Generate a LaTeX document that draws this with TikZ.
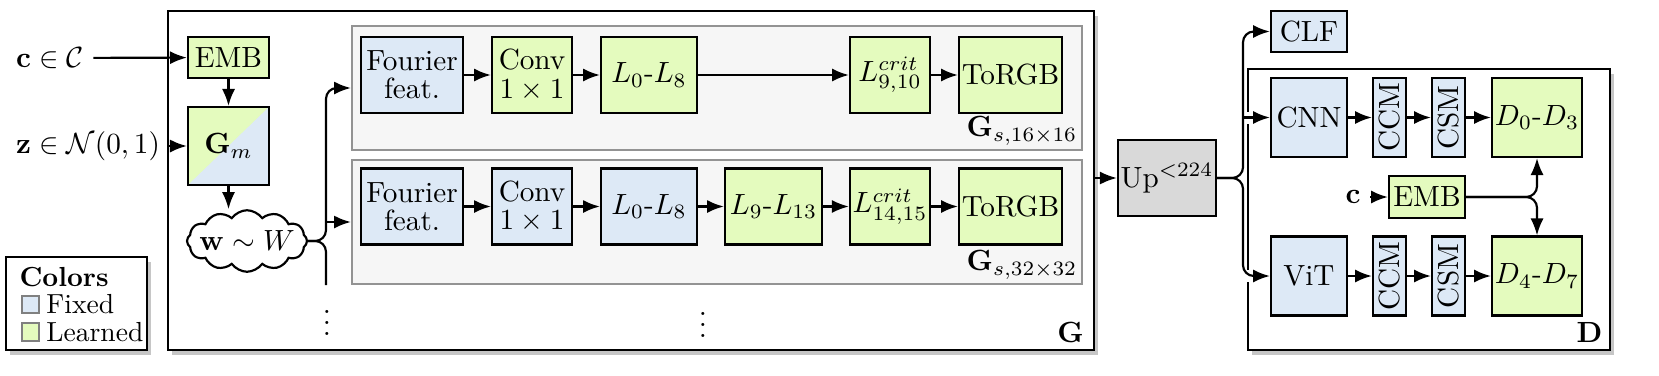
\RequirePackage{fix-cm}
\documentclass[tikz,border=0pt]{standalone}
\usepackage{amsmath,amssymb}
\usetikzlibrary{arrows.meta,positioning,calc,fit,shadows,shapes.symbols}
\definecolor{fixedblue}{RGB}{221,233,246}
\definecolor{learngreen}{RGB}{228,251,190}
\definecolor{upgray}{RGB}{217,217,217}
\definecolor{pipegray}{RGB}{246,246,246}
\tikzset{
  blk/.style={draw=black, thick, inner sep=1pt, align=center, minimum height=0.988cm},
  fixed/.style={blk, fill=fixedblue},
  learned/.style={blk, fill=learngreen},
  pipe/.style={draw=gray!85, thick, fill=pipegray, inner sep=0pt},
  outer/.style={draw=black, thick, fill=white, inner sep=0pt, drop shadow={shadow xshift=1.6pt, shadow yshift=-1.8pt, opacity=0.45}},
  arrow/.style={-{Latex[length=2.2mm, width=1.7mm]}, thick},
  branch/.style={arrow, rounded corners=4pt},
  swatch/.style={draw=gray, thick, minimum size=0.23cm, inner sep=0pt},
  legendtext/.style={inner sep=0pt, font=\fontsize{10.2}{12}\selectfont}
}

\begin{document}
\begin{tikzpicture}[x=0.013cm, y=-0.013cm, font=\fontsize{10.8}{12.5}\selectfont]
  \useasboundingbox (0,0) rectangle (1659,375);
  % generator
  \node[outer, fit={(168,11) (1094,350)}] (Gbox) {};
  \node[anchor=south east, inner xsep=4pt, inner ysep=3pt] (lblG) at (Gbox.south east) {$\mathbf{G}$};
  \node[pipe, fit={(352,26) (1082,150)}] (pipe16) {};
  \node[pipe, fit={(352,160) (1082,284)}] (pipe32) {};
  \node[anchor=south east, inner sep=2pt] (lbl16) at (pipe16.south east) {$\mathbf{G}_{s,16\times16}$};
  \node[anchor=south east, inner sep=2pt] (lbl32) at (pipe32.south east) {$\mathbf{G}_{s,32\times32}$};

  \node (cin) at (50,58) {$\mathbf{c}\in\mathcal{C}$};
  \node (zin) at (88,146) {$\mathbf{z}\in\mathcal{N}(0,1)$};
  \node[learned, minimum width=1.053cm, minimum height=0.533cm] (emb) at (228.5,57.5) {EMB};
  \node[learned, minimum width=1.053cm, minimum height=1.014cm,
        path picture={\fill[fixedblue] (path picture bounding box.south west) -- (path picture bounding box.south east) -- (path picture bounding box.north east) -- cycle;}] (gm) at (228.5,146) {$\mathbf{G}_m$};
  \node[cloud, draw, thick, fill=white, cloud puffs=12, cloud puff arc=110, aspect=1.6, minimum width=1.56cm, minimum height=0.8cm, inner sep=0pt] (cloud) at (247,241) {};
  \node (wtxt) at (cloud.center) {$\mathbf{w}\sim W$};
  \draw[arrow] (cin) -- (emb);
  \draw[arrow] (zin) -- (gm);
  \draw[arrow] (emb) -- (gm);
  \draw[arrow] (gm.south) -- (gm.south |- cloud.north);

  % 16x16 stage
  \node[fixed, minimum width=1.326cm] (ff1) at (412,75) {Fourier\\[-2pt]feat.};
  \node[learned, minimum width=1.04cm] (conv1) at (532,75) {Conv\\[-2pt]$1\times1$};
  \node[learned, minimum width=1.248cm] (la1) at (649,75) {$L_0$-$L_8$};
  \node[learned, minimum width=1.04cm] (crit1) at (890,75) {$L_{9,10}^{crit}$};
  \node[learned, minimum width=1.339cm] (rgb1) at (1010.5,75) {ToRGB};
  \draw[arrow] (ff1) -- (conv1);
  \draw[arrow] (conv1) -- (la1);
  \draw[arrow] (la1) -- (crit1);
  \draw[arrow] (crit1) -- (rgb1);

  % 32x32 stage
  \node[fixed, minimum width=1.326cm] (ff2) at (412,206.5) {Fourier\\[-2pt]feat.};
  \node[fixed, minimum width=1.04cm] (conv2) at (532,206.5) {Conv\\[-2pt]$1\times1$};
  \node[fixed, minimum width=1.248cm] (la2) at (649,206.5) {$L_0$-$L_8$};
  \node[learned, minimum width=1.261cm] (lb2) at (773.5,206.5) {$L_9$-$L_{13}$};
  \node[learned, minimum width=1.04cm] (crit2) at (890,206.5) {$L_{14,15}^{crit}$};
  \node[learned, minimum width=1.339cm] (rgb2) at (1010.5,206.5) {ToRGB};
  \draw[arrow] (ff2) -- (conv2);
  \draw[arrow] (conv2) -- (la2);
  \draw[arrow] (la2) -- (lb2);
  \draw[arrow] (lb2) -- (crit2);
  \draw[arrow] (crit2) -- (rgb2);

  \node (wdots) at (327,315) {$\vdots$};
  \node (gdots) at (703,317) {$\vdots$};
  \coordinate (wbr) at (326,241);
  \draw[branch] (cloud.east) -- (wbr) |- (pipe16.west);
  \draw[arrow] (wbr |- pipe32.west) -- (pipe32.west);
  \draw[thick, rounded corners=4pt] (cloud.east) -- (wbr) -- ++(0,44);

  % legend
  \node[outer, fit={(6,257) (147,350)}] (legend) {};
  \node[anchor=west, legendtext] (lgtitle) at (19,277) {\textbf{Colors}};
  \node[swatch, fill=fixedblue] (swfix) at (30.5,304.5) {};
  \node[swatch, fill=learngreen] (swlrn) at (30.5,332) {};
  \node[right=2pt of swfix, legendtext] (lgfix) {Fixed};
  \node[right=2pt of swlrn, legendtext] (lglrn) {Learned};

  % upsampling and discriminator
  \node[blk, fill=upgray, minimum width=1.17cm] (up) at (1167,178) {Up$^{<224}$};
  \draw[arrow] (up.west -| Gbox.east) -- (up.west);
  \node[fixed, minimum width=0.988cm, minimum height=0.533cm] (clf) at (1309,31.5) {CLF};
  \node[outer, fit={(1248,69) (1610,350)}] (Dbox) {};
  \node[anchor=south east, inner sep=3pt] (lblD) at (Dbox.south east) {$\mathbf{D}$};

  \node[fixed, minimum width=0.988cm, minimum height=1.027cm] (cnn) at (1309,117.5) {CNN};
  \node[fixed, rotate=90, minimum width=1.027cm, minimum height=0.429cm] (ccm1) at (1389.5,117.5) {CCM};
  \node[fixed, rotate=90, minimum width=1.027cm, minimum height=0.429cm] (csm1) at (1448.5,117.5) {CSM};
  \node[learned, minimum width=1.17cm, minimum height=1.027cm] (d03) at (1537,117.5) {$D_0$-$D_3$};
  \node[fixed, minimum width=0.988cm, minimum height=1.027cm] (vit) at (1309,276) {ViT};
  \node[fixed, rotate=90, minimum width=1.027cm, minimum height=0.429cm] (ccm2) at (1389.5,276) {CCM};
  \node[fixed, rotate=90, minimum width=1.027cm, minimum height=0.429cm] (csm2) at (1448.5,276) {CSM};
  \node[learned, minimum width=1.17cm, minimum height=1.027cm] (d47) at (1537,276) {$D_4$-$D_7$};
  \node[learned, minimum width=0.988cm, minimum height=0.546cm] (emb2) at (1427,197) {EMB};
  \node (c2) at (1353,197) {$\mathbf{c}$};

  \draw[arrow] (cnn) -- (ccm1);
  \draw[arrow] (ccm1) -- (csm1);
  \draw[arrow] (csm1) -- (d03);
  \draw[arrow] (vit) -- (ccm2);
  \draw[arrow] (ccm2) -- (csm2);
  \draw[arrow] (csm2) -- (d47);
  \draw[arrow] (c2) -- (emb2);

  % gaps in the D frame where the inputs cross it
  \draw[white, line width=2.4pt] ($(Dbox.west |- cnn.west)+(0,-6)$) -- ++(0,12);
  \draw[white, line width=2.4pt] ($(Dbox.west |- vit.west)+(0,-6)$) -- ++(0,12);
  \coordinate (ubr) at (1243,178);
  \draw[branch] (up.east) -- (ubr) |- (clf.west);
  \draw[branch] (up.east) -- (ubr) |- (vit.west);
  \draw[arrow] (ubr |- cnn.west) -- (cnn.west);

  \coordinate (ebr) at (d03.south |- emb2.east);
  \draw[branch] (emb2.east) -- (ebr) -- (d03.south);
  \draw[branch] (emb2.east) -- (ebr) -- (d47.north);
\end{tikzpicture}
\end{document}
